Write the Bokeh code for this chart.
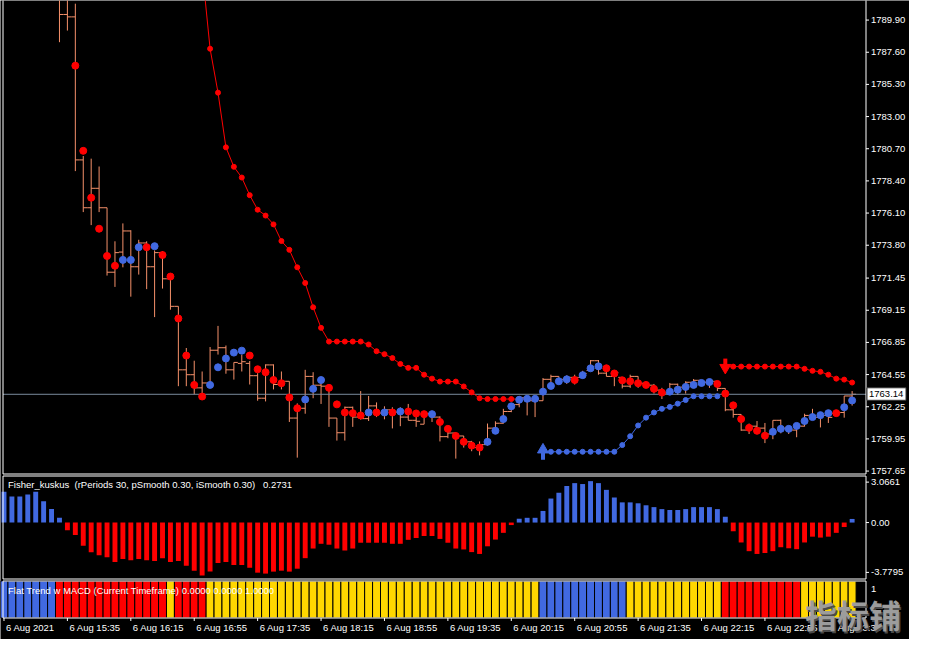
from bokeh.plotting import figure
from bokeh.models import Range1d, ColumnDataSource
from bokeh.core.properties import value
from bokeh.embed import file_html
from bokeh.resources import INLINE

# ---------------- data (bar index -1 = "6 Aug 2021", 5-minute bars) ----------------
first_bar = -1
n_bars = 108

candle_first = 6
candle_open = [
    1791.85, 1790.30, 1790.13, 1779.90, 1776.48, 1777.87, 1776.48, 1771.87, 1773.31, 1774.82,
    1772.26, 1773.96, 1772.26, 1773.27, 1771.40, 1769.43, 1764.89, 1764.54, 1763.60, 1763.95,
    1766.29, 1766.47, 1764.89, 1765.35, 1765.35, 1764.47, 1762.86, 1765.24, 1763.84, 1764.07,
    1761.44, 1762.14, 1764.42, 1763.79, 1763.72, 1761.44, 1760.39, 1762.21, 1761.51, 1761.40,
    1762.31, 1761.79, 1762.03, 1761.86, 1761.51, 1761.28, 1761.00, 1761.75, 1761.51, 1760.11,
    1760.37, 1760.16, 1759.74, 1759.33, 1759.54, 1760.72, 1761.07, 1761.91, 1762.40, 1762.89,
    1762.68, 1762.68, 1764.21, 1764.42, 1764.21, 1764.35, 1764.35, 1764.84, 1765.54, 1764.65,
    1764.42, 1764.35, 1763.72, 1764.42, 1763.93, 1763.79, 1763.44, 1763.23, 1763.86, 1763.65,
    1764.00, 1764.14, 1764.00, 1764.07, 1763.56, 1762.03, 1761.70, 1760.58, 1760.86, 1760.72,
    1760.30, 1761.28, 1760.72, 1760.58, 1760.86, 1761.63, 1761.49, 1761.63, 1761.77, 1761.84,
    1763.02]
candle_high = [
    1792.69, 1791.99, 1791.07, 1780.18, 1779.99, 1779.43, 1776.48, 1774.08, 1775.36, 1774.87,
    1774.19, 1774.08, 1773.43, 1773.38, 1771.56, 1769.43, 1766.45, 1765.54, 1764.77, 1766.52,
    1768.03, 1766.63, 1765.42, 1765.96, 1765.52, 1764.65, 1765.28, 1765.28, 1764.77, 1764.07,
    1762.49, 1764.89, 1764.72, 1764.30, 1763.84, 1761.44, 1762.26, 1762.26, 1763.37, 1763.02,
    1762.56, 1762.28, 1762.21, 1762.21, 1762.45, 1761.93, 1761.86, 1761.86, 1761.56, 1760.81,
    1760.40, 1760.16, 1759.81, 1759.77, 1761.05, 1761.21, 1762.10, 1762.45, 1763.02, 1763.02,
    1762.91, 1764.30, 1764.54, 1764.42, 1764.49, 1764.54, 1764.82, 1765.59, 1765.59, 1765.24,
    1764.82, 1764.35, 1764.54, 1764.42, 1763.95, 1763.88, 1763.60, 1763.95, 1763.90, 1764.07,
    1764.23, 1764.16, 1764.19, 1764.07, 1763.56, 1762.33, 1761.70, 1761.05, 1761.23, 1761.09,
    1761.28, 1761.33, 1760.86, 1761.05, 1761.75, 1762.10, 1761.86, 1761.98, 1761.98, 1763.02,
    1763.37]
candle_low = [
    1788.32, 1789.15, 1779.10, 1776.17, 1775.24, 1776.17, 1771.63, 1770.82, 1772.22, 1770.12,
    1771.70, 1770.66, 1768.66, 1770.70, 1769.19, 1763.72, 1763.72, 1763.14, 1763.14, 1763.60,
    1765.98, 1764.61, 1764.19, 1764.77, 1763.84, 1762.68, 1762.63, 1763.49, 1763.49, 1761.16,
    1758.61, 1761.75, 1762.86, 1762.45, 1760.81, 1759.83, 1759.83, 1760.81, 1761.33, 1761.23,
    1761.51, 1761.35, 1760.70, 1760.86, 1761.28, 1760.81, 1761.00, 1761.16, 1759.77, 1760.00,
    1758.54, 1759.33, 1759.07, 1758.77, 1759.47, 1760.44, 1761.05, 1761.86, 1762.21, 1761.63,
    1761.51, 1762.68, 1763.60, 1763.84, 1763.88, 1763.84, 1764.30, 1764.82, 1764.54, 1764.42,
    1763.72, 1763.56, 1763.60, 1763.60, 1763.72, 1763.19, 1762.80, 1763.10, 1763.10, 1763.19,
    1763.60, 1763.72, 1763.60, 1763.37, 1761.93, 1761.47, 1760.53, 1760.30, 1760.30, 1759.65,
    1759.93, 1760.35, 1760.30, 1760.07, 1760.84, 1761.33, 1760.77, 1761.09, 1761.63, 1761.47,
    1762.33]
candle_close = [
    1790.30, 1790.13, 1779.90, 1776.48, 1777.87, 1776.48, 1771.87, 1773.27, 1774.82, 1772.26,
    1773.96, 1772.26, 1773.27, 1771.40, 1769.43, 1764.89, 1764.54, 1763.60, 1763.95, 1766.29,
    1766.47, 1764.89, 1765.42, 1765.47, 1764.47, 1762.86, 1765.24, 1763.84, 1764.07, 1761.44,
    1762.14, 1764.42, 1763.79, 1763.72, 1761.44, 1760.39, 1762.21, 1761.51, 1761.40, 1762.31,
    1761.79, 1762.03, 1761.86, 1761.51, 1761.28, 1761.21, 1761.75, 1761.51, 1760.11, 1760.37,
    1760.16, 1759.74, 1759.33, 1759.54, 1760.72, 1761.07, 1761.91, 1762.40, 1762.89, 1762.68,
    1762.82, 1764.21, 1764.42, 1764.21, 1764.35, 1764.35, 1764.63, 1765.54, 1764.65, 1764.42,
    1764.70, 1763.72, 1764.42, 1763.93, 1763.79, 1763.44, 1763.23, 1763.86, 1763.65, 1764.00,
    1764.14, 1764.00, 1764.07, 1763.56, 1762.03, 1761.70, 1760.58, 1760.86, 1760.72, 1760.30,
    1761.28, 1760.72, 1760.58, 1760.86, 1761.63, 1761.49, 1761.63, 1761.49, 1761.84, 1763.02,
    1763.14]

ma_first = 8
ma_values = [
    1786.64, 1780.55, 1777.20, 1774.98, 1773.03, 1772.33, 1772.75, 1772.75, 1773.66, 1773.66,
    1773.73, 1773.10, 1771.56, 1768.56, 1765.91, 1763.81, 1762.98, 1763.81, 1765.07, 1765.70,
    1766.12, 1766.26, 1765.91, 1764.93, 1764.72, 1764.16, 1763.93, 1762.91, 1762.14, 1762.77,
    1763.53, 1764.16, 1763.60, 1762.42, 1761.84, 1761.79, 1761.63, 1761.84, 1761.84, 1761.84,
    1761.84, 1761.91, 1761.91, 1761.77, 1761.72, 1761.72, 1761.16, 1760.67, 1760.16, 1759.74,
    1759.47, 1759.33, 1759.74, 1760.53, 1761.37, 1762.28, 1762.75, 1762.82, 1762.82, 1763.33,
    1763.74, 1764.07, 1764.21, 1764.16, 1764.51, 1765.00, 1765.14, 1765.00, 1764.63, 1764.14,
    1764.07, 1763.93, 1763.81, 1763.53, 1763.26, 1763.33, 1763.47, 1763.67, 1763.81, 1763.95,
    1764.02, 1763.88, 1763.19, 1762.35, 1761.37, 1760.74, 1760.53, 1760.18, 1760.46, 1760.67,
    1760.67, 1760.88, 1761.23, 1761.51, 1761.65, 1761.79, 1761.79, 1762.21, 1762.70]
ma_direction = ("RRRRRRBBBR" "BRRRRRRBBB" "BBRRRRRRRB" "BBRRRRRBRB" "RBRRRBRRRR"
                "RRBBBBBBBB" "BBBRBBBRRR" "RRRRRBBBBB" "BRRRRRRRBB" "BBBBBBRBB")

stop_down_first = 23
stop_down_values = [
    1796.88, 1793.53, 1787.85, 1784.71, 1780.80, 1779.41, 1778.64, 1777.38, 1776.34, 1775.92,
    1775.29, 1774.10, 1773.47, 1772.22, 1771.10, 1769.36, 1767.89, 1766.91, 1766.91, 1766.91,
    1766.91, 1766.91, 1766.70, 1766.22, 1766.01, 1765.73, 1765.31, 1765.03, 1765.03, 1764.54,
    1764.26, 1764.05, 1764.05, 1764.05, 1763.70, 1763.28, 1762.86, 1762.80, 1762.80, 1762.80,
    1762.80, 1762.80, 1762.80, 1762.80]
stop_up_first = 67
stop_up_values = [
    1759.03, 1759.03, 1759.03, 1759.03, 1759.03, 1759.03, 1759.03, 1759.03, 1759.03, 1759.03,
    1759.51, 1760.14, 1760.91, 1761.47, 1761.84, 1762.10, 1762.24, 1762.47, 1762.73, 1763.00,
    1763.00, 1763.00, 1763.00]
stop_down2_first = 90
stop_down2_values = [
    1765.12, 1765.12, 1765.12, 1765.12, 1765.12, 1765.12, 1765.12, 1765.12, 1765.12, 1765.12,
    1764.96, 1764.82, 1764.75, 1764.54, 1764.26, 1764.19, 1763.98]

fisher_values = [
    2.34, 1.97, 1.97, 2.12, 2.34, 1.61, 1.02, 0.36, -0.58, -0.95,
    -1.75, -2.26, -2.48, -2.63, -2.99, -2.77, -2.85, -2.77, -2.85, -2.92,
    -2.70, -2.99, -2.92, -3.28, -3.65, -4.01, -3.72, -3.07, -2.99, -3.21,
    -3.21, -3.43, -3.80, -3.87, -3.72, -3.65, -3.72, -3.50, -2.70, -1.97,
    -1.61, -1.68, -1.97, -2.12, -1.97, -1.53, -1.53, -1.53, -1.53, -1.61,
    -1.61, -1.31, -1.17, -1.02, -1.02, -1.24, -1.53, -1.97, -2.04, -2.24,
    -2.38, -1.80, -1.29, -0.78, -0.19, 0.29, 0.36, 0.36, 0.88, 1.82,
    2.26, 2.77, 2.99, 2.92, 3.14, 2.99, 2.48, 1.90, 1.53, 1.53,
    1.46, 1.31, 1.17, 1.02, 0.95, 0.95, 1.02, 1.17, 1.17, 1.17,
    1.02, 0.44, -0.66, -1.51, -2.17, -2.38, -2.31, -2.17, -1.87, -1.95,
    -2.02, -1.51, -1.07, -1.14, -1.07, -0.78, -0.34, 0.2731]

# U = up (blue), D = down (red), F = flat (yellow)
flat_state = ("UUUUUUU" "DDDDDDDDDDDDDD" "F" "DDDD"
              "FFFFFFFFFFFFFFFFFFFFFFFFFFFFFFFFFFFFFFFFFF"
              "UUUUUUUUUUU" "FFFFFFFFFFFF" "DDDDDDDDDD" "FFFFFFF")

price_ticks = [1789.90, 1787.60, 1785.30, 1783.00, 1780.70, 1778.40, 1776.10, 1773.80,
               1771.45, 1769.15, 1766.85, 1764.55, 1762.25, 1759.95, 1757.65]
price_tick_labels = ["1789.90", "1787.60", "1785.30", "1783.00", "1780.70", "1778.40",
                     "1776.10", "1773.80", "1771.45", "1769.15", "1766.85", "1764.55",
                     "1762.25", "1759.95", "1757.65"]
fisher_ticks = [3.0661, 0.0, -3.7795]
fisher_tick_labels = ["3.0661", "0.00", "-3.7795"]
flat_ticks = [1]
flat_tick_labels = ["1"]
time_tick_bars = [-1, 7, 15, 23, 31, 39, 47, 55, 63, 71, 79, 87, 95, 103]
time_tick_labels = ["6 Aug 2021", "6 Aug 15:35", "6 Aug 16:15", "6 Aug 16:55",
                    "6 Aug 17:35", "6 Aug 18:15", "6 Aug 18:55", "6 Aug 19:35",
                    "6 Aug 20:15", "6 Aug 20:55", "6 Aug 21:35", "6 Aug 22:15",
                    "6 Aug 22:55", "6 Aug 23:35"]
last_price = 1763.14
# non-breaking spaces keep the wide gaps of the original caption
fisher_title = "Fisher_kuskus \u00a0(rPeriods 30, pSmooth 0.30, iSmooth 0.30) \u00a0\u00a00.2731"
flat_title = "Flat Trend w MACD (Current Timeframe) 0.0000 0.0000 1.0000"
watermark = "指标铺"

# ---------------- layout & styles ----------------
W, H = 909, 639
PLOT_L, PLOT_R = 2.5, 865.5            # pixel edges of the panels
MAIN_BOTTOM = 473.5                    # panel pixel bands
FISH_PX = (475.5, 578.5)
FLAT_PX = (580.5, 617.5)
main_lim = (1791.30, 1757.44)          # value at top / bottom of the main panel
fish_lim = (3.53, -4.28)
flat_lim = (1.0, 0.0)

FONT = "Liberation Sans"
FS = "9.5px"
BAR_COL = "#F5906A"
RED = "#FF0000"
BLUE = "#4169E1"
GOLD = "#FFD700"
dir_color = {"R": RED, "B": BLUE}
state_color = {"U": BLUE, "D": RED, "F": GOLD}

k_left = first_bar - 0.125
k_right = first_bar + n_bars + 0.75
sx = (PLOT_R - PLOT_L) / (k_right - k_left)          # pixels per bar
xr = Range1d(k_left - PLOT_L / sx, k_right + (W - PLOT_R) / sx)


def band_range(px, lim):
    upp = (lim[0] - lim[1]) / (px[1] - px[0])
    return Range1d(lim[1] - (H - px[1]) * upp, lim[0] + px[0] * upp), upp


main_rng, main_upp = band_range((0.0, MAIN_BOTTOM), main_lim)
fish_rng, fish_upp = band_range(FISH_PX, fish_lim)
flat_rng, flat_upp = band_range(FLAT_PX, flat_lim)

p = figure(width=W, height=H, x_range=xr, y_range=main_rng,
           output_backend="svg", toolbar_location=None,
           x_axis_location=None, y_axis_location=None, min_border=0,
           background_fill_color="black", border_fill_color="black",
           outline_line_color=None)
p.extra_y_ranges = {"fisher": fish_rng, "flat": flat_rng}
p.grid.visible = False

x_lab = k_right + 5 / sx      # right-hand label column
x_tick = k_right + 3 / sx


def txt(x, y, t, rn="default", color="white", align="left", baseline="middle",
        size=FS, font=FONT, style="normal", x_off=0, y_off=0):
    p.text(x=x, y=y, text=t, y_range_name=rn, text_color=color, text_align=align,
           text_baseline=baseline, text_font=value(font), text_font_size=value(size),
           text_font_style=style, x_offset=x_off, y_offset=y_off)


# ---------------- main price panel ----------------
ck = list(range(candle_first, candle_first + len(candle_close)))
csrc = ColumnDataSource(dict(
    k=ck, kl=[k - 0.5 for k in ck], kr=[k + 0.5 for k in ck],
    o=candle_open, h=candle_high, l=candle_low, c=candle_close))
p.segment(x0="k", y0="l", x1="k", y1="h", source=csrc, line_color=BAR_COL, line_width=1)
p.segment(x0="kl", y0="o", x1="k", y1="o", source=csrc, line_color=BAR_COL, line_width=1)
p.segment(x0="k", y0="c", x1="kr", y1="c", source=csrc, line_color=BAR_COL, line_width=1)

p.segment(x0=[k_left], y0=[last_price], x1=[k_right], y1=[last_price],
          line_color="#7A8A9C", line_width=1)

sd_k = list(range(stop_down_first, stop_down_first + len(stop_down_values)))
p.line(sd_k, stop_down_values, line_color=RED, line_width=1)
p.scatter(sd_k, stop_down_values, size=5, fill_color=RED, line_color=RED)

su_k = list(range(stop_up_first, stop_up_first + len(stop_up_values)))
p.line(su_k, stop_up_values, line_color=BLUE, line_width=1)
p.scatter(su_k[1:], stop_up_values[1:], size=5, fill_color=BLUE, line_color=BLUE)

sd2_k = list(range(stop_down2_first, stop_down2_first + len(stop_down2_values)))
p.line(sd2_k, stop_down2_values, line_color=RED, line_width=1)
p.scatter(sd2_k[1:], stop_down2_values[1:], size=5, fill_color=RED, line_color=RED)

# signal arrows at the start of each stop line
ua_k, ua_v = stop_up_first, stop_up_values[0]
p.scatter([ua_k], [ua_v + 2 * main_upp], marker="triangle", size=11,
          fill_color=BLUE, line_color=BLUE)
p.segment(x0=[ua_k], y0=[ua_v - 1 * main_upp], x1=[ua_k], y1=[ua_v - 8 * main_upp],
          line_color=BLUE, line_width=4)
da_k, da_v = stop_down2_first, stop_down2_values[0]
p.scatter([da_k], [da_v - 1 * main_upp], marker="inverted_triangle", size=11,
          fill_color=RED, line_color=RED)
p.segment(x0=[da_k], y0=[da_v + 2 * main_upp], x1=[da_k], y1=[da_v + 8 * main_upp],
          line_color=RED, line_width=4)

mk = list(range(ma_first, ma_first + len(ma_values)))
mcol = [dir_color[d] for d in ma_direction]
p.scatter(mk, ma_values, size=7, fill_color=mcol, line_color=mcol)

# frame and price scale
p.quad(left=[k_left], right=[k_right], top=[main_lim[0] + 20 * main_upp],
       bottom=[main_lim[1]], fill_color=None, line_color="white", line_width=1)
p.segment(x0=[k_right] * len(price_ticks), y0=price_ticks,
          x1=[x_tick] * len(price_ticks), y1=price_ticks, line_color="white")
txt([x_lab] * len(price_ticks), price_ticks, price_tick_labels)
p.quad(left=[k_right + 1 / sx], right=[k_right + 40 / sx],
       top=[last_price + 6.5 * main_upp], bottom=[last_price - 6 * main_upp],
       fill_color="white", line_color="#333333")
txt([k_right + 3 / sx], [last_price], [f"{last_price:.2f}"], color="black")

# ---------------- Fisher panel ----------------
fk = list(range(first_bar, first_bar + len(fisher_values)))
p.vbar(x=fk, top=fisher_values, bottom=0, width=0.62, y_range_name="fisher",
       fill_color=[BLUE if v >= 0 else RED for v in fisher_values], line_color=None)
p.quad(left=[k_left], right=[k_right], top=[fish_lim[0]], bottom=[fish_lim[1]],
       y_range_name="fisher", fill_color=None, line_color="white", line_width=1)
p.segment(x0=[k_right] * len(fisher_ticks), y0=fisher_ticks,
          x1=[x_tick] * len(fisher_ticks), y1=fisher_ticks, y_range_name="fisher",
          line_color="white")
txt([x_lab] * len(fisher_ticks), fisher_ticks, fisher_tick_labels, rn="fisher")
txt([k_left + 5 / sx], [fish_lim[0] - 3 * fish_upp], [fisher_title], rn="fisher",
    baseline="top")

# ---------------- Flat trend panel ----------------
sk = list(range(first_bar, first_bar + len(flat_state)))
p.vbar(x=sk, top=1, bottom=0, width=1, y_range_name="flat",
       fill_color=[state_color[s] for s in flat_state], line_color="black", line_width=1)
p.quad(left=[k_left], right=[k_right], top=[flat_lim[0]], bottom=[flat_lim[1]],
       y_range_name="flat", fill_color=None, line_color="white", line_width=1)
txt([x_lab], [flat_ticks[0] - 8 * flat_upp], flat_tick_labels, rn="flat")
txt([k_left + 5 / sx], [flat_lim[0] - 4 * flat_upp], [flat_title], rn="flat",
    baseline="top")

# time scale
p.segment(x0=time_tick_bars, y0=[flat_lim[1]] * len(time_tick_bars),
          x1=time_tick_bars, y1=[flat_lim[1] - 3 * flat_upp] * len(time_tick_bars),
          y_range_name="flat", line_color="white")
txt(time_tick_bars, [flat_lim[1] - 4 * flat_upp] * len(time_tick_bars), time_tick_labels,
    rn="flat", baseline="top", x_off=2)

# watermark (dark edge copy underneath, lighter copy on top)
wm_y = flat_lim[1] + 4 * flat_upp
txt([106.1], [wm_y], [watermark], rn="flat", color="#4A4A4A",
    align="center", size="32px", font="Noto Sans CJK SC", style="bold", x_off=1.5, y_off=1.5)
txt([106.1], [wm_y], [watermark], rn="flat", color="#9C9C9C",
    align="center", size="32px", font="Noto Sans CJK SC", style="bold")

open("out.html", "w").write(file_html(p, INLINE))
